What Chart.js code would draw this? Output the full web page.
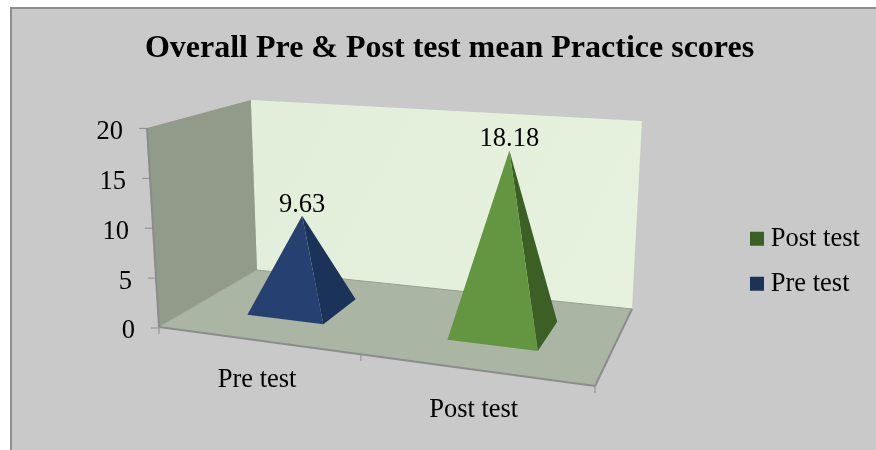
<!DOCTYPE html>
<html>
<head>
<meta charset="utf-8">
<title>Overall Pre & Post test mean Practice scores</title>
<script src="https://cdn.jsdelivr.net/npm/chart.js@4"></script>
<style>
    html, body { margin: 0; background: #fff; overflow: hidden; }
    canvas { display: block; }
</style>
</head>
<body>
<canvas id="pyramidChart" width="876" height="450"></canvas>
<script>
const categories = ['Pre test', 'Post test'];
const preValues = [9.63, null];
const postValues = [null, 18.18];
const yTicks = [0, 5, 10, 15, 20];

const serif = '"Liberation Serif", "Times New Roman", serif';

// Floor of the 3D box on screen: front-left, front-right, back-right, back-left
const floor = [[159, 327], [595, 386], [632, 309], [257, 270]];
const vanishY = 4508, vanishX = 411; // verticals lean towards this point

// Perspective mapping of the unit square on to the floor
const sx = floor[0][0] - floor[1][0] + floor[2][0] - floor[3][0];
const sy = floor[0][1] - floor[1][1] + floor[2][1] - floor[3][1];
const dx1 = floor[1][0] - floor[2][0], dx2 = floor[3][0] - floor[2][0];
const dy1 = floor[1][1] - floor[2][1], dy2 = floor[3][1] - floor[2][1];
const det = dx1 * dy2 - dx2 * dy1;
const g = (sx * dy2 - dx2 * sy) / det;
const h = (dx1 * sy - sx * dy1) / det;

// u: along the category axis, v: depth, t: height as share of the value axis
function project(u, v, t = 0) {
    const w = 1 + g * u + h * v;
    const x = ((floor[1][0] - floor[0][0] + g * floor[1][0]) * u + (floor[3][0] - floor[0][0] + h * floor[3][0]) * v + floor[0][0]) / w;
    const y = ((floor[1][1] - floor[0][1] + g * floor[1][1]) * u + (floor[3][1] - floor[0][1] + h * floor[3][1]) * v + floor[0][1]) / w;
    const rise = (199 - 29 * v + 18 * u) * t;
    return { x: x + (x - vanishX) / (vanishY - y) * rise, y: y - rise };
}

function fillPoly(ctx, pts, color) {
    ctx.beginPath();
    pts.forEach((p, i) => i ? ctx.lineTo(p.x, p.y) : ctx.moveTo(p.x, p.y));
    ctx.closePath();
    ctx.fillStyle = color;
    ctx.fill();
}

function line(ctx, a, b, color, width) {
    ctx.beginPath();
    ctx.moveTo(a.x, a.y);
    ctx.lineTo(b.x, b.y);
    ctx.strokeStyle = color;
    ctx.lineWidth = width;
    ctx.stroke();
}

// Bar controller that draws each bar as a pyramid
class PyramidController extends Chart.BarController {
    draw() {
        const ctx = this.chart.ctx;
        const area = this.chart.chartArea;
        const ds = this.getDataset();
        this.getMeta().data.forEach((bar, i) => {
            if (ds.data[i] === null) return;
            const u = (bar.x - area.left) / area.width + 0.005;
            const du = bar.width / area.width / 2;
            const dv = 0.2;
            const t = (bar.base - bar.y) / area.height;
            const tip = project(u, 0.5, t);
            tip.x += 2;
            const frontLeft = project(u - du, 0.5 - dv);
            const frontRight = project(u + du, 0.5 - dv);
            const backRight = project(u + du, 0.5 + dv);
            ctx.save();
            fillPoly(ctx, [frontRight, backRight, tip], ds.backgroundColor);
            fillPoly(ctx, [frontLeft, frontRight, tip], ds.frontColor);
            ctx.fillStyle = '#000';
            ctx.font = '26.5px ' + serif;
            ctx.textAlign = 'center';
            ctx.textBaseline = 'middle';
            ctx.fillText(String(ds.data[i]), tip.x, tip.y - 11);
            ctx.restore();
        });
    }
}
PyramidController.id = 'pyramid';
PyramidController.defaults = Chart.BarController.defaults;
PyramidController.overrides = Chart.BarController.overrides;
Chart.register(PyramidController);

const box3d = {
    id: 'box3d',
    beforeDraw(chart) {
        const ctx = chart.ctx;
        ctx.save();
        ctx.fillStyle = '#fff';
        ctx.fillRect(0, 0, chart.width, chart.height);
        ctx.fillStyle = '#c9c9c9';
        ctx.fillRect(10, 7, chart.width, chart.height);
        ctx.fillStyle = '#8f8f8f';
        ctx.fillRect(10, 7, chart.width, 2);
        ctx.fillRect(10, 7, 2, chart.height);
        ctx.restore();
    },
    afterLayout(chart) {
        // Legend sits in the lower middle of the right side
        const legend = chart.legend;
        legend.left = 738;
        legend.right = 876;
        legend.top = 207;
        legend.bottom = 450;
    },
    beforeDatasetsDraw(chart) {
        const ctx = chart.ctx;
        const yScale = chart.scales.y;
        ctx.save();

        const wall = ctx.createLinearGradient(252, 100, 642, 310);
        wall.addColorStop(0, '#e2eeda');
        wall.addColorStop(1, '#e6f1de');
        fillPoly(ctx, [project(0, 1, 1), project(1, 1, 1), project(1, 1), project(0, 1)], wall);
        fillPoly(ctx, [project(0, 0, 1), project(0, 1, 1), project(0, 1), project(0, 0)], '#929a8a');
        fillPoly(ctx, [project(0, 0), project(1, 0), project(1, 1), project(0, 1)], '#abb5a4');

        const axis = '#8c8c8c';
        line(ctx, project(0, 1), project(1, 1), '#9aa392', 1);
        line(ctx, project(0, 0), project(0, 1), '#a0a899', 1);
        line(ctx, project(0, 0, 1), project(0, 0), axis, 2);
        line(ctx, project(0, 0), project(1, 0), axis, 2);
        line(ctx, project(1, 0), project(1, 1), axis, 2);

        // Value axis: ticks and labels follow the slanted edge
        ctx.fillStyle = '#000';
        ctx.font = '26.5px ' + serif;
        ctx.textBaseline = 'middle';
        ctx.textAlign = 'right';
        yScale.ticks.forEach(tick => {
            const y = yScale.getPixelForValue(tick.value);
            const edge = project(0, 0, tick.value / yScale.max);
            line(ctx, { x: edge.x - 8, y: y - 2 }, { x: edge.x, y: y - 2 }, axis, 1);
            ctx.fillText(tick.label, edge.x - 24, y + 1.5);
        });

        // Category axis: ticks between the categories, labels below the front edge
        [0, 0.5, 1].forEach(u => {
            const p = project(u, 0);
            const x = u === 0.5 ? p.x + 4 : p.x;
            line(ctx, { x, y: p.y }, { x, y: p.y + 7 }, axis, 1);
        });
        ctx.textAlign = 'center';
        const xScale = chart.scales.x;
        categories.forEach((label, i) => {
            const u = (xScale.getPixelForValue(i) - xScale.left) / xScale.width;
            const p = project(u, 0);
            ctx.fillText(label, p.x + 3.5, p.y + 40.5);
        });
        ctx.restore();
    }
};

const pyramidChart = new Chart(document.getElementById('pyramidChart'), {
    type: 'pyramid',
    data: {
        labels: categories,
        datasets: [
            { label: 'Pre test', data: preValues, backgroundColor: '#1b3259', frontColor: '#274072', grouped: false, barPercentage: 0.4, categoryPercentage: 1, clip: false },
            { label: 'Post test', data: postValues, backgroundColor: '#3b5f24', frontColor: '#649540', grouped: false, barPercentage: 0.4, categoryPercentage: 1, clip: false }
        ]
    },
    plugins: [box3d],
    options: {
        responsive: false,
        animation: false,
        layout: { padding: { left: 23, bottom: 120 } },
        scales: {
            x: { display: false },
            y: { display: false, min: 0, max: 20, afterBuildTicks: scale => { scale.ticks = yTicks.map(value => ({ value })); } }
        },
        plugins: {
            title: {
                display: true,
                text: 'Overall Pre & Post test mean Practice scores',
                color: '#000',
                font: { family: serif, size: 32, weight: 'bold' },
                padding: { top: 30, bottom: 62 }
            },
            legend: {
                position: 'right',
                align: 'start',
                reverse: true,
                labels: {
                    color: '#000',
                    font: { family: serif, size: 26.5 },
                    usePointStyle: true,
                    pointStyle: 'rect',
                    boxWidth: 1,
                    boxHeight: 14,
                    padding: 18.5
                }
            },
            tooltip: { enabled: false }
        }
    }
});
</script>
</body>
</html>
